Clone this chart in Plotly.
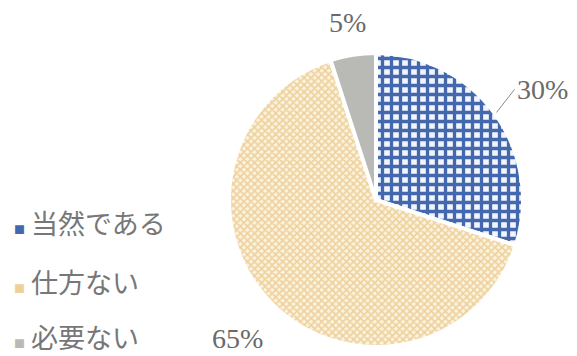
import numpy as np
import plotly.graph_objects as go

labels = ["当然である", "仕方ない", "必要ない"]
values = [30, 65, 5]
colors = ["#4468ad", "#eed19a", "#b9bab5"]
pattern_shapes = ["+", "x", ""]
pattern_bg = ["#f2f5fb", "#fbf2df", "#b9bab5"]

W, H = 577, 356
# pie placement in pixels
cx, cy, rad = 376, 200, 147

fig = go.Figure()
fig.add_trace(go.Pie(
    labels=labels,
    values=values,
    sort=False,
    direction="clockwise",
    rotation=0,
    textinfo="none",
    showlegend=False,
    marker=dict(
        colors=colors,
        line=dict(color="white", width=4),
        pattern=dict(
            shape=pattern_shapes,
            fgcolor=colors,
            bgcolor=pattern_bg,
            size=[9, 5, 8],
            solidity=[0.6, 0.55, 0.3],
            fillmode="replace",
        ),
    ),
    domain=dict(
        x=[(cx - rad) / W, (cx + rad) / W],
        y=[(H - cy - rad) / H, (H - cy + rad) / H],
    ),
))

# percentage labels placed along each slice's mid angle
vals = np.array(values, dtype=float)
frac = vals / vals.sum()
mid = (np.cumsum(frac) - frac / 2) * 2 * np.pi
label_r = [0, 196, 180]   # distance from centre for 30%, 65%, 5%
pct_font = dict(family="Liberation Serif", size=28, color="#6a6a6a")
annotations = []
for i, (v, a) in enumerate(zip(values, mid)):
    if i == 0:
        # leader line from the slice edge out to the label
        ex = cx + (rad + 2) * np.sin(a)
        ey = cy - (rad + 2) * np.cos(a)
        annotations.append(dict(
            text=f"{v}%",
            xref="paper", yref="paper",
            x=ex / W, y=1 - ey / H,
            ax=18, ay=-23,
            axref="pixel", ayref="pixel",
            xanchor="left", yanchor="middle",
            showarrow=True, arrowhead=0, arrowwidth=1,
            arrowcolor="#8a8a8a", standoff=0, startstandoff=0,
            font=pct_font,
        ))
        continue
    tx = cx + label_r[i] * np.sin(a)
    ty = cy - label_r[i] * np.cos(a)
    annotations.append(dict(
        text=f"{v}%",
        xref="paper", yref="paper",
        x=tx / W, y=1 - ty / H,
        xanchor="center", yanchor="middle",
        showarrow=False,
        font=pct_font,
    ))

# legend entries on the left
legend_y = [222, 281, 336]
for lab, col, ly in zip(labels, colors, legend_y):
    annotations.append(dict(
        text=f"<span style='font-size:11px;color:{col}'>■</span> {lab}",
        xref="paper", yref="paper",
        x=12 / W, y=1 - ly / H,
        xanchor="left", yanchor="middle",
        showarrow=False,
        font=dict(family="Noto Sans CJK JP", size=27, color="#777777"),
    ))

fig.update_layout(
    width=W, height=H,
    margin=dict(l=0, r=0, t=0, b=0),
    paper_bgcolor="white",
    plot_bgcolor="white",
    annotations=annotations,
)

fig.write_html("out.html")
